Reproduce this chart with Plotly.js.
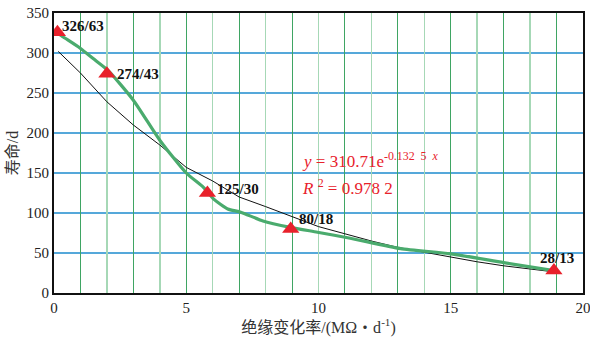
<!DOCTYPE html>
<html><head><meta charset="utf-8">
<script src="https://cdn.plot.ly/plotly-3.0.1.min.js"></script>
<style>html,body{margin:0;padding:0;background:#fff}#c{width:590px;height:338px}</style>
</head><body><div id="c"></div>
<script>
// Measured points (rate of insulation change vs. lifetime)
const ptX = [0.13, 2.0, 5.8, 8.95, 18.9];
const ptY = [326, 274, 125, 80, 28];
const ptLabels = ['326/63', '274/43', '125/30', '80/18', '28/13'];

// Green smoothed curve
const greenX = [0.13, 0.35, 0.99, 1.48, 2.05, 3.0, 4.0, 5.0, 5.65, 6.05, 6.57, 7.06, 7.9, 8.94, 9.96, 11.2, 13.1, 15, 17, 18.9];
const greenY = [325, 320, 306, 293, 278, 241, 191, 150, 132, 117, 105, 101, 90, 82, 76, 68.5, 55.5, 49, 38, 28];

// Black fitted trend line
const blackX = [0.16, 1, 2, 3, 4, 5, 6, 7, 8, 9, 10, 11, 12, 13, 14, 15, 16, 17, 18, 19];
const blackY = [302, 275, 239, 210, 185, 157, 140, 120, 108, 95, 83, 74, 65, 57, 51, 45, 39, 34, 30, 26];

const xTicks = [0, 5, 10, 15, 20];
const xGridLight = [2,4,6,8,10,12,14,16,18];
const xGridDark = [1,3,5,7,9,11,13,15,17,19];
const yTicks = [0, 50, 100, 150, 200, 250, 300, 350];

const serif = "'Liberation Serif', 'DejaVu Serif', serif";
const cjk = "'Liberation Serif', 'Noto Sans CJK SC', serif";
const red = '#e8212b';

const traces = [
  {x: [0], y: [0], xaxis: 'x2', yaxis: 'y', mode: 'markers', marker: {opacity: 0}, hoverinfo: 'skip'},
  {x: [0], y: [0], xaxis: 'x3', yaxis: 'y', mode: 'markers', marker: {opacity: 0}, hoverinfo: 'skip'},
  {x: blackX, y: blackY, mode: 'lines', line: {color: '#111', width: 1}, hoverinfo: 'skip'},
  {x: greenX, y: greenY, mode: 'lines', line: {color: '#4aab6d', width: 3.2, shape: 'spline', smoothing: 0.6}, hoverinfo: 'skip'},
  {x: ptX, y: ptY, mode: 'markers', marker: {symbol: 'triangle-up', size: 15, color: red}, hoverinfo: 'skip'}
];

const labelShift = [[3, -6], [8, 0], [8, -4], [6, -10], [3, -13]];
const annotations = ptLabels.map((t, i) => ({
  x: ptX[i], y: ptY[i], xref: 'x', yref: 'y', text: '<b>' + t + '</b>', showarrow: false,
  xanchor: i === 4 ? 'center' : 'left', yanchor: 'middle',
  xshift: labelShift[i][0], yshift: -labelShift[i][1],
  font: {family: serif, size: 15, color: '#111'}
}));
annotations.push({
  xref: 'paper', yref: 'paper', x: 0.465, y: 0.474, xanchor: 'left', yanchor: 'middle', showarrow: false,
  text: '<i>y</i> = 310.71e<sup>-0.132  5  <i>x</i></sup>',
  font: {family: serif, size: 17, color: red}
});
annotations.push({
  xref: 'paper', yref: 'paper', x: 0.465, y: 0.378, xanchor: 'left', yanchor: 'middle', showarrow: false,
  text: '<i>R</i> <sup>2</sup> = 0.978 2',
  font: {family: serif, size: 17, color: red}
});

const gridAxis = (vals, color, w) => ({
  overlaying: 'x', range: [0, 20], tickmode: 'array', tickvals: vals,
  showgrid: true, gridcolor: color, gridwidth: w,
  showticklabels: false, ticks: '', zeroline: false, showline: false
});

const layout = {
  width: 590, height: 338,
  margin: {l: 54, r: 7, t: 13, b: 45},
  paper_bgcolor: '#fff', plot_bgcolor: '#fff',
  showlegend: false,
  font: {family: serif, color: '#222'},
  xaxis: {
    range: [0, 20], tickmode: 'array', tickvals: xTicks, ticktext: xTicks.map(String),
    ticklabeloverflow: 'allow', automargin: false,
    showgrid: false, zeroline: false, showline: true, mirror: true, linecolor: '#111', linewidth: 2,
    ticks: '', tickfont: {family: serif, size: 15, color: '#222'},
    title: {text: '绝缘变化率/(MΩ・d<sup>-1</sup>)', font: {family: cjk, size: 16, color: '#333'}, standoff: 6}
  },
  xaxis2: gridAxis(xGridLight, '#a6d8b6', 1.5),
  xaxis3: gridAxis(xGridDark, '#3fa563', 1),
  yaxis: {
    range: [0, 350], tickmode: 'array', tickvals: yTicks, ticktext: yTicks.map(String),
    ticklabeloverflow: 'allow', automargin: false,
    showgrid: true, gridcolor: '#55a8da', gridwidth: 1.5, zeroline: false,
    showline: true, mirror: true, linecolor: '#111', linewidth: 2, ticks: '',
    tickfont: {family: serif, size: 15, color: '#222'},
    title: {text: '寿命/d', font: {family: cjk, size: 16, color: '#333'}, standoff: 4}
  },
  annotations: annotations
};

Plotly.newPlot('c', traces, layout, {staticPlot: true});
</script></body></html>
